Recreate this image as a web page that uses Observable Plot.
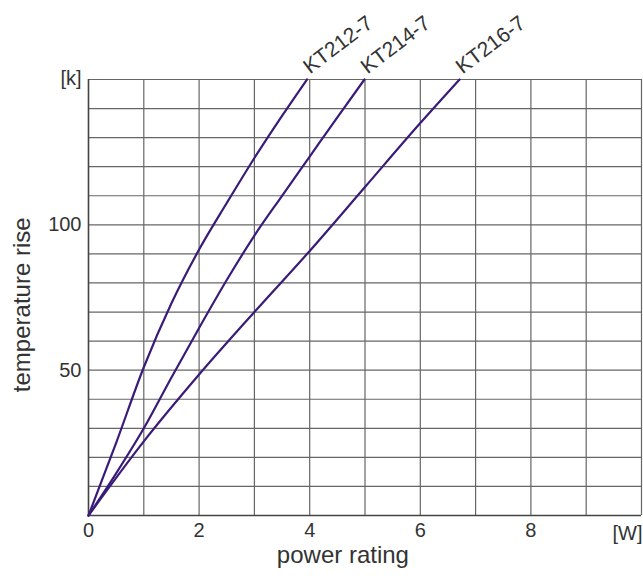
<!DOCTYPE html>
<html>
<head>
<meta charset="utf-8">
<script src="https://cdn.jsdelivr.net/npm/d3@7"></script>
<script src="https://cdn.jsdelivr.net/npm/@observablehq/plot@0.6"></script>
<style>
  html, body { margin: 0; padding: 0; background: #fff; }
  #chart svg { display: block; }
</style>
</head>
<body>
<div id="chart"></div>
<script>
const seriesNames = ["KT212-7", "KT214-7", "KT216-7"];
const kt212x = [0, 0.5, 1, 1.5, 2, 2.5, 3, 3.5, 3.95];
const kt212y = [0, 25, 51, 73, 91.5, 107.5, 123, 137.5, 150];
const kt214x = [0, 0.5, 1, 1.5, 2, 2.5, 3, 3.5, 4, 4.5, 4.99];
const kt214y = [0, 14.5, 30, 47.5, 64.5, 81, 96.3, 110, 123.5, 137, 150];
const kt216x = [0, 1, 2, 3, 4, 5, 6, 6.71];
const kt216y = [0, 25.5, 48.5, 70, 91, 113, 135, 150];
const xTicks = [0, 2, 4, 6, 8];
const yTicks = [50, 100];
const xUnit = "[W]";
const yUnit = "[k]";
const xTitle = "power rating";
const yTitle = "temperature rise";

const xs = [kt212x, kt214x, kt216x];
const ys = [kt212y, kt214y, kt216y];
const data = [];
seriesNames.forEach((name, i) => {
  xs[i].forEach((x, j) => data.push({series: name, x, y: ys[i][j]}));
});
const ends = seriesNames.map((name, i) => ({series: name, x: xs[i][xs[i].length - 1], y: ys[i][ys[i].length - 1]}));

const font = "'Liberation Sans', Arial, sans-serif";
const ink = "#333";
const lineColor = "#3a1c78";

const plot = Plot.plot({
  width: 643,
  height: 579,
  marginLeft: 88,
  marginRight: 2,
  marginTop: 79,
  marginBottom: 64,
  style: {fontFamily: font, background: "#fff", overflow: "visible"},
  x: {domain: [0, 10]},
  y: {domain: [0, 150]},
  marks: [
    Plot.gridX(d3.range(0, 11), {stroke: "#666", strokeOpacity: 1, strokeWidth: 1.2}),
    Plot.gridY(d3.range(0, 151, 10), {stroke: "#666", strokeOpacity: 1, strokeWidth: 1.2}),
    Plot.ruleX([0], {stroke: "#444", strokeWidth: 1.5}),
    Plot.ruleY([0], {stroke: "#444", strokeWidth: 1.5}),
    Plot.axisX(xTicks, {tickSize: 0, tickPadding: 7, fontSize: 20, fill: ink, label: null}),
    Plot.axisY(yTicks, {tickSize: 0, tickPadding: 7, fontSize: 20, fill: ink, label: null}),
    Plot.text([xUnit], {x: 10, y: 0, text: d => d, dy: 18, textAnchor: "end", dx: 1, fontSize: 20, fill: ink}),
    Plot.text([yUnit], {x: 0, y: 150, text: d => d, dx: -7, dy: -1, textAnchor: "end", fontSize: 20, fill: ink}),
    Plot.text([xTitle], {frameAnchor: "bottom", x: 4.6, dy: 47, text: d => d, fontSize: 24, fill: ink}),
    Plot.text([yTitle], {frameAnchor: "left", textAnchor: "middle", y: 72.5, dx: -66, rotate: -90, text: d => d, fontSize: 24, fill: ink}),
    Plot.line(data, {x: "x", y: "y", z: "series", stroke: lineColor, strokeWidth: 2.2, curve: "monotone-x"}),
    Plot.text(ends, {x: "x", y: "y", text: "series", rotate: -37, textAnchor: "start", lineAnchor: "bottom", dx: 3, dy: -5, fontSize: 21, fill: ink})
  ]
});
document.getElementById("chart").appendChild(plot);
</script>
</body>
</html>
